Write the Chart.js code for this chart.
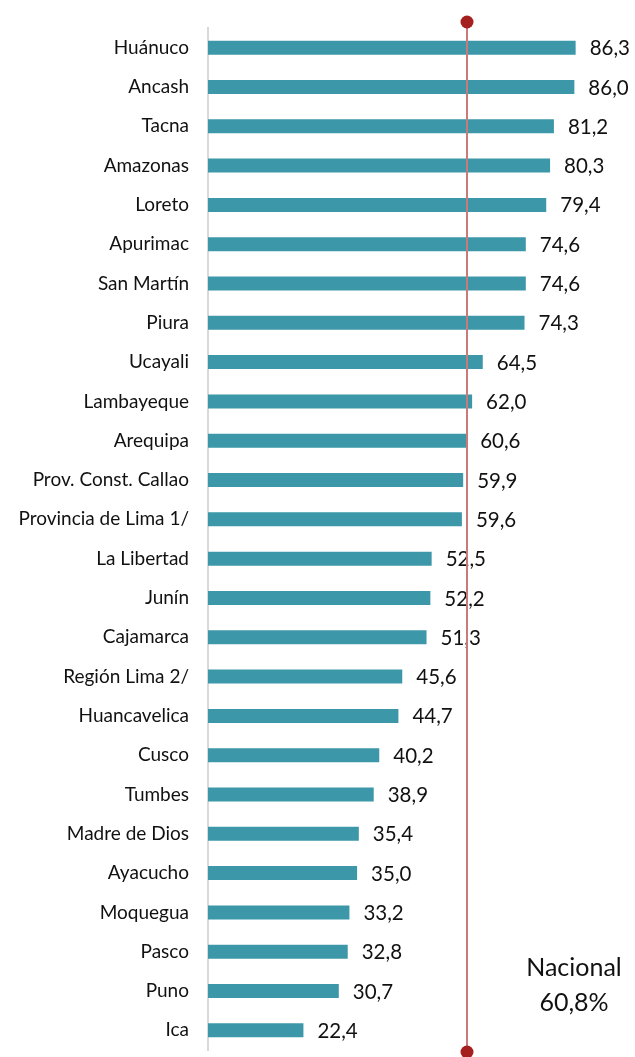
<!DOCTYPE html>
<html>
<head>
<meta charset="utf-8">
<script src="https://cdn.jsdelivr.net/npm/chart.js@4/dist/chart.umd.min.js"></script>
<style>
  html, body { margin: 0; padding: 0; background: #fff; overflow: hidden; }
  canvas { display: block; }
</style>
</head>
<body>
<canvas id="chart" width="635" height="1057"></canvas>
<script>
  const REGIONS = [
    'Huánuco', 'Ancash', 'Tacna', 'Amazonas', 'Loreto', 'Apurimac', 'San Martín',
    'Piura', 'Ucayali', 'Lambayeque', 'Arequipa', 'Prov. Const. Callao',
    'Provincia de Lima 1/', 'La Libertad', 'Junín', 'Cajamarca', 'Región Lima 2/',
    'Huancavelica', 'Cusco', 'Tumbes', 'Madre de Dios', 'Ayacucho', 'Moquegua',
    'Pasco', 'Puno', 'Ica'
  ];
  const VALUES = [
    86.3, 86.0, 81.2, 80.3, 79.4, 74.6, 74.6, 74.3, 64.5, 62.0, 60.6, 59.9,
    59.6, 52.5, 52.2, 51.3, 45.6, 44.7, 40.2, 38.9, 35.4, 35.0, 33.2, 32.8,
    30.7, 22.4
  ];
  const NATIONAL = 60.8;
  const NATIONAL_LABEL = ['Nacional', '60,8%'];

  const COLORS = {
    bar: '#3c97a9',
    axis: '#d9d9d9',
    refLine: '#c97a7a',
    refDot: '#a51f1f',
    text: '#111111'
  };

  const fmt = v => v.toFixed(1).replace('.', ',');

  // value labels at the end of each bar
  const valueLabels = {
    id: 'valueLabels',
    afterDatasetsDraw(chart) {
      const ctx = chart.ctx;
      const meta = chart.getDatasetMeta(0);
      ctx.save();
      ctx.font = '20.5px Lato';
      ctx.fillStyle = COLORS.text;
      ctx.textAlign = 'left';
      ctx.textBaseline = 'middle';
      meta.data.forEach((bar, i) => {
        ctx.fillText(fmt(VALUES[i]), bar.x + 14, bar.y + 1);
      });
      ctx.restore();
    }
  };

  // national average reference line with end dots
  const nationalLine = {
    id: 'nationalLine',
    afterDatasetsDraw(chart) {
      const ctx = chart.ctx;
      const x = chart.scales.x.getPixelForValue(NATIONAL);
      const top = chart.chartArea.top - 6;
      const bottom = chart.chartArea.bottom + 2;
      ctx.save();
      ctx.strokeStyle = COLORS.refLine;
      ctx.lineWidth = 2;
      ctx.beginPath();
      ctx.moveTo(x, top);
      ctx.lineTo(x, bottom);
      ctx.stroke();
      ctx.fillStyle = COLORS.refDot;
      [top, bottom].forEach(y => {
        ctx.beginPath();
        ctx.arc(x, y, 6.5, 0, Math.PI * 2);
        ctx.fill();
      });
      ctx.font = '25px Lato';
      ctx.fillStyle = COLORS.text;
      ctx.textAlign = 'center';
      ctx.textBaseline = 'middle';
      ctx.fillText(NATIONAL_LABEL[0], 574, 968);
      ctx.fillText(NATIONAL_LABEL[1], 574, 1003);
      ctx.restore();
    }
  };

  new Chart(document.getElementById('chart'), {
    type: 'bar',
    data: {
      labels: REGIONS,
      datasets: [{
        data: VALUES,
        backgroundColor: COLORS.bar,
        borderWidth: 0,
        categoryPercentage: 1,
        barPercentage: 0.356
      }]
    },
    options: {
      indexAxis: 'y',
      responsive: false,
      animation: false,
      layout: { padding: { top: 28, bottom: 7, left: 0, right: 1 } },
      plugins: {
        legend: { display: false },
        tooltip: { enabled: false }
      },
      scales: {
        x: {
          display: false,
          min: 0,
          max: 100
        },
        y: {
          grid: { display: false, drawTicks: false },
          border: { display: true, color: COLORS.axis, width: 2 },
          ticks: {
            color: COLORS.text,
            font: { family: 'Lato', size: 19 },
            padding: 19
          },
          afterFit(scale) {
            scale.width = 208;
            // keep the label padding from shrinking the plot area
            scale.paddingTop = 0;
            scale.paddingBottom = 0;
          }
        }
      }
    },
    plugins: [valueLabels, nationalLine]
  });
</script>
</body>
</html>
